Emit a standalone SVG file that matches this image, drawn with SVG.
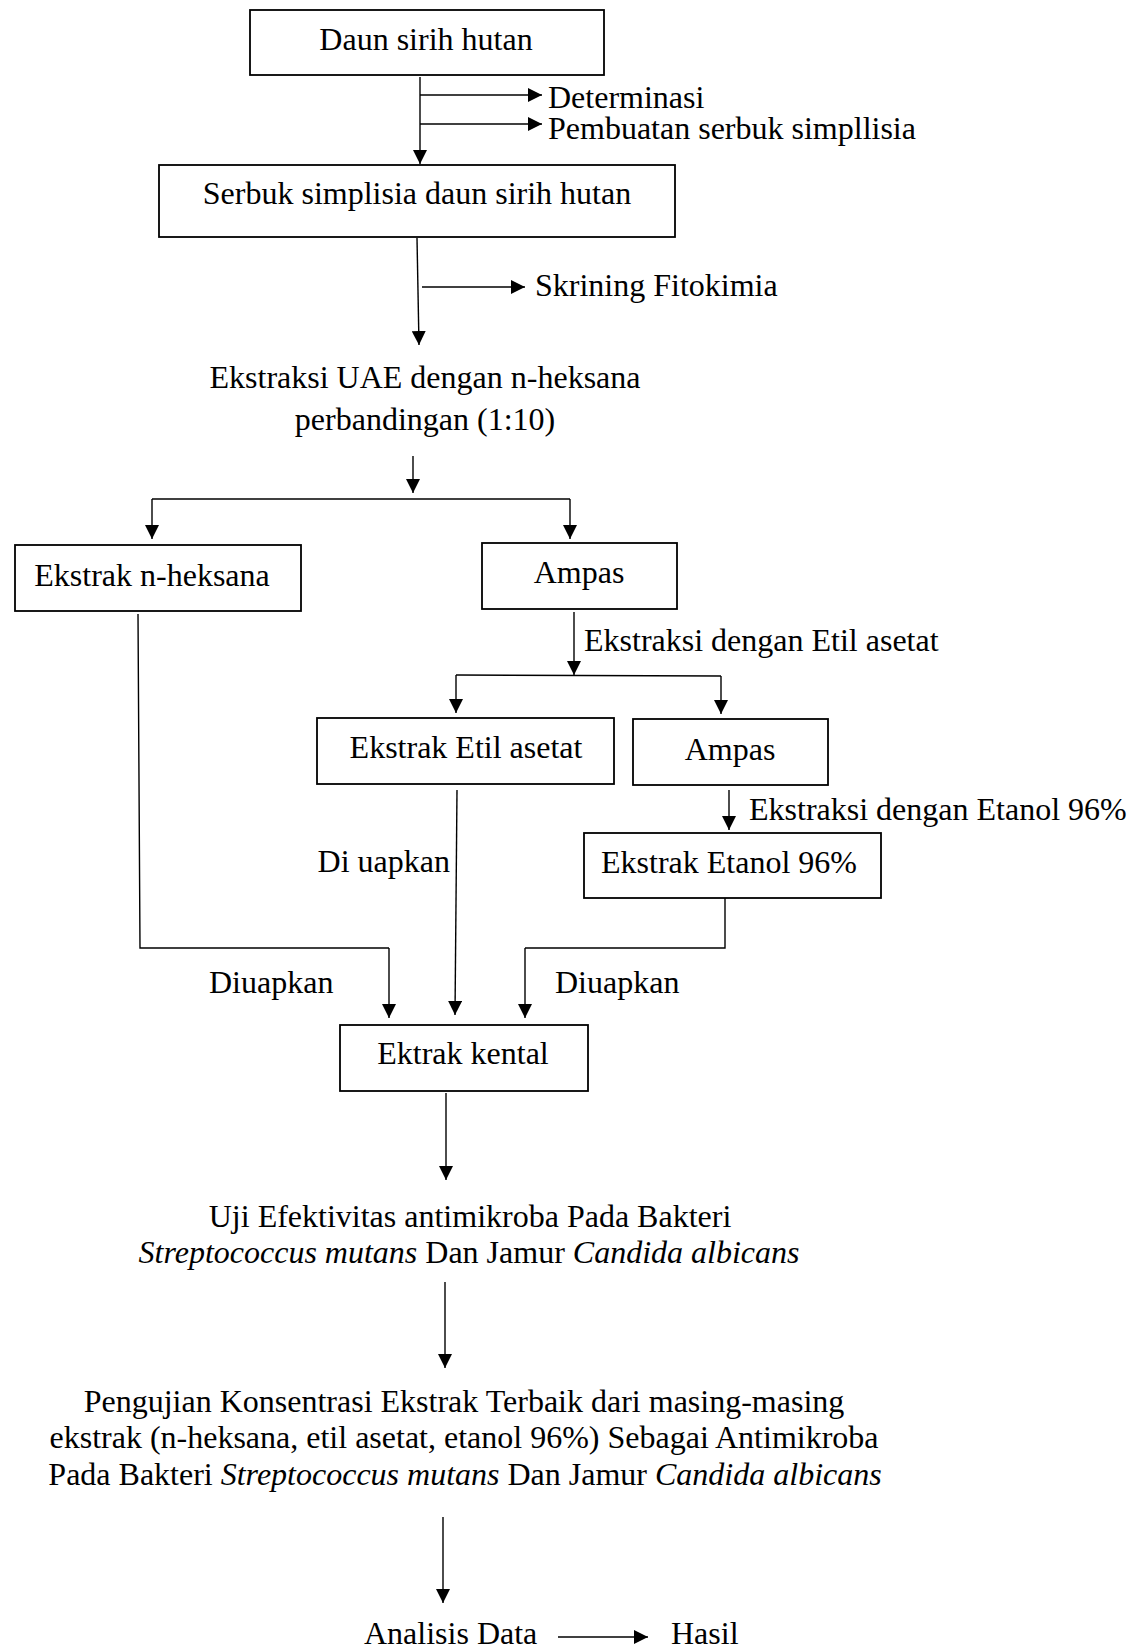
<svg xmlns="http://www.w3.org/2000/svg" width="1141" height="1648" viewBox="0 0 1141 1648">
<style>
text{font-family:"Liberation Serif","Times New Roman",serif;font-size:32px;fill:#000}
.c{text-anchor:middle}
.e{text-anchor:end}
.i{font-style:italic}
.box{fill:#fff;stroke:#000;stroke-width:1.8}
.ln{fill:none;stroke:#000;stroke-width:1.4}
.ar{fill:none;stroke:#000;stroke-width:1.4;marker-end:url(#ah)}
</style>
<defs>
<marker id="ah" markerUnits="userSpaceOnUse" markerWidth="14" markerHeight="14" refX="14" refY="7" orient="auto">
<path d="M0,0 L14,7 L0,14 z" fill="#000"/>
</marker>
</defs>
<rect width="1141" height="1648" fill="#fff"/>
<g id="connectors">
<path class="ar" d="M420,77 L420,164"/>
<path class="ar" d="M420,95 L542,95"/>
<path class="ar" d="M420,124 L542,124"/>
<path class="ar" d="M417,238 L419,345"/>
<path class="ar" d="M422,287 L525,287"/>
<path class="ar" d="M413,456 L413,493"/>
<path class="ln" d="M152,499 L570,499"/>
<path class="ar" d="M152,499 L152,539"/>
<path class="ar" d="M570,499 L570,539"/>
<path class="ar" d="M574,612 L574,675"/>
<path class="ln" d="M456,675 L721,676"/>
<path class="ar" d="M456,675 L456,713"/>
<path class="ar" d="M721,676 L721,714"/>
<path class="ar" d="M729,790 L729,830"/>
<path class="ln" d="M138,614 L140,948 L389,948"/>
<path class="ar" d="M389,948 L389,1018"/>
<path class="ar" d="M457,790 L455,1015"/>
<path class="ln" d="M725,898 L725,948 L525,948"/>
<path class="ar" d="M525,948 L525,1018"/>
<path class="ar" d="M446,1093 L446,1180"/>
<path class="ar" d="M445,1282 L445,1368"/>
<path class="ar" d="M443,1517 L443,1603"/>
<path class="ar" d="M558,1637 L648,1637"/>
</g>
<g id="n1"><rect class="box" x="250" y="10" width="354" height="65"/><text class="c" x="426" y="50">Daun sirih hutan</text></g>
<g id="l1"><text x="548" y="108">Determinasi</text></g>
<g id="l2"><text x="548" y="139">Pembuatan serbuk simpllisia</text></g>
<g id="n2"><rect class="box" x="159" y="165" width="516" height="72"/><text class="c" x="417" y="204">Serbuk simplisia daun sirih hutan</text></g>
<g id="l3"><text x="535" y="296">Skrining Fitokimia</text></g>
<g id="n3"><text class="c" x="425" y="388">Ekstraksi UAE dengan n-heksana</text><text class="c" x="425" y="430">perbandingan (1:10)</text></g>
<g id="n4"><rect class="box" x="15" y="545" width="286" height="66"/><text class="c" x="152" y="586">Ekstrak n-heksana</text></g>
<g id="n5"><rect class="box" x="482" y="543" width="195" height="66"/><text class="c" x="579" y="583">Ampas</text></g>
<g id="l4"><text x="584" y="651">Ekstraksi dengan Etil asetat</text></g>
<g id="n6"><rect class="box" x="317" y="718" width="297" height="66"/><text class="c" x="466" y="758">Ekstrak Etil asetat</text></g>
<g id="n7"><rect class="box" x="633" y="719" width="195" height="66"/><text class="c" x="730" y="760">Ampas</text></g>
<g id="l5"><text x="749" y="820">Ekstraksi dengan Etanol 96%</text></g>
<g id="n8"><rect class="box" x="584" y="833" width="297" height="65"/><text class="c" x="729" y="873">Ekstrak Etanol 96%</text></g>
<g id="l6"><text class="e" x="450" y="872">Di uapkan</text></g>
<g id="l7"><text x="209" y="993">Diuapkan</text></g>
<g id="l8"><text x="555" y="993">Diuapkan</text></g>
<g id="n9"><rect class="box" x="340" y="1025" width="248" height="66"/><text class="c" x="463" y="1064">Ektrak kental</text></g>
<g id="n10"><text class="c" x="470" y="1227">Uji Efektivitas antimikroba Pada Bakteri</text><text class="c" x="469" y="1263"><tspan class="i">Streptococcus mutans</tspan> Dan Jamur <tspan class="i">Candida albicans</tspan></text></g>
<g id="n11"><text class="c" x="464" y="1412">Pengujian Konsentrasi Ekstrak Terbaik dari masing-masing</text><text class="c" x="464" y="1448">ekstrak (n-heksana, etil asetat, etanol 96%) Sebagai Antimikroba</text><text class="c" x="465" y="1485">Pada Bakteri <tspan class="i">Streptococcus mutans</tspan> Dan Jamur <tspan class="i">Candida albicans</tspan></text></g>
<g id="n12"><text x="364" y="1644">Analisis Data</text></g>
<g id="n13"><text x="671" y="1644">Hasil</text></g>
</svg>
